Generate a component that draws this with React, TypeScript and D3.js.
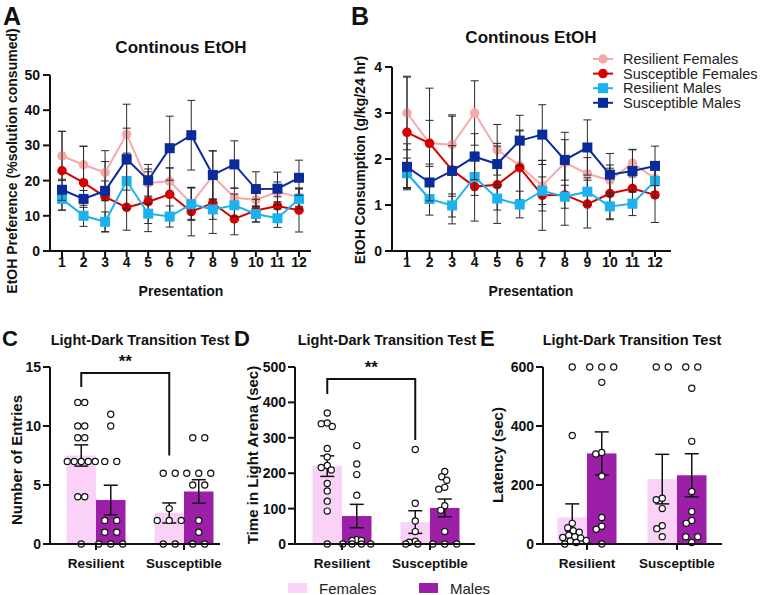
import React from 'react';
import * as d3 from 'd3';

const FONT = "'Liberation Sans', Arial, Helvetica, sans-serif";

// ---------- Line panels (A, B) ----------
const presentations = [1, 2, 3, 4, 5, 6, 7, 8, 9, 10, 11, 12];
const seriesNames = ['Resilient Females', 'Susceptible Females', 'Resilient Males', 'Susceptible Males'];
const seriesColors = ['#F7A8AA', '#D60000', '#1BB2EF', '#0B2A9C'];
const seriesShapes = ['circle', 'circle', 'square', 'square'];

// A: EtOH preference (%)
const prefRF = [27.0, 24.5, 22.3, 33.2, 19.3, 19.8, 13.5, 21.3, 15.2, 14.5, 16.8, 15.3];
const prefSF = [22.8, 19.4, 15.4, 12.4, 14.0, 16.1, 11.2, 13.6, 9.1, 11.5, 12.8, 11.6];
const prefRM = [14.8, 10.0, 8.3, 19.9, 10.6, 9.8, 13.3, 11.8, 13.0, 10.5, 9.3, 14.8];
const prefSM = [17.4, 14.8, 17.1, 26.1, 20.1, 29.2, 32.9, 21.6, 24.6, 17.6, 17.7, 20.8];
const prefErrRF = [7.0, 5.3, 6.2, 8.5, 4.0, 3.8, 4.5, 7.2, 2.6, 2.2, 2.8, 2.6];
const prefErrSF = [11.2, 10.3, 10.0, 6.5, 8.5, 7.5, 6.9, 8.6, 4.5, 3.2, 2.6, 6.2];
const prefErrRM = [3.2, 3.0, 2.8, 7.9, 2.8, 3.0, 4.6, 2.8, 3.2, 2.3, 2.6, 2.8];
const prefErrSM = [3.0, 2.4, 2.8, 8.8, 4.5, 9.1, 9.9, 6.8, 6.7, 4.9, 4.7, 5.0];
const prefTicks = [0, 10, 20, 30, 40, 50];

// B: EtOH consumption (g/kg/24 hr)
const consRF = [3.0, 2.34, 2.31, 3.0, 2.2, 1.86, 1.42, 1.92, 1.68, 1.54, 1.91, 1.58];
const consSF = [2.58, 2.34, 1.76, 1.4, 1.44, 1.81, 1.21, 1.22, 1.02, 1.25, 1.36, 1.22];
const consRM = [1.69, 1.13, 0.99, 1.61, 1.14, 1.01, 1.31, 1.18, 1.29, 0.97, 1.03, 1.52];
const consSM = [1.83, 1.49, 1.74, 2.05, 1.89, 2.4, 2.53, 1.98, 2.25, 1.66, 1.74, 1.85];
const consErrRF = [0.8, 0.5, 0.65, 0.7, 0.55, 0.75, 0.55, 0.66, 0.35, 0.33, 0.3, 0.3];
const consErrSF = [1.2, 1.2, 1.17, 0.75, 0.84, 0.82, 0.76, 0.66, 0.52, 0.55, 0.42, 0.6];
const consErrRM = [0.33, 0.35, 0.25, 0.4, 0.25, 0.29, 0.3, 0.25, 0.3, 0.29, 0.26, 0.35];
const consErrSM = [0.5, 0.4, 0.55, 0.5, 0.45, 0.55, 0.65, 0.44, 0.6, 0.46, 0.46, 0.43];
const consTicks = [0, 1, 2, 3, 4];

// ---------- Bar panels (C, D, E) ----------
const groups = ['Resilient', 'Susceptible'];
const sexes = ['Females', 'Males'];
const sexColors = ['#FAD2F7', '#9C1FA8'];

// C: number of entries  (order: Res-F, Res-M, Sus-F, Sus-M)
const entriesRF = [12, 12, 10, 10, 9, 9, 7, 7, 7, 7, 7, 4, 4, 0];
const entriesRM = [11, 10, 7, 7, 2, 2, 1, 1, 0, 0, 0];
const entriesSF = [6, 6, 3, 2, 2, 2, 0, 0];
const entriesSM = [9, 9, 6, 6, 6, 5, 5, 2, 1, 0, 0];
const entriesMeans = [7.5, 3.73, 2.63, 4.45];
const entriesSEM = [0.9, 1.25, 0.85, 1.0];
const entriesTicks = [0, 5, 10, 15];
const entriesBracket = [13.3, 14.5, 7.5];

// D: time in light arena (sec)
const timeRF = [370, 342, 340, 332, 270, 246, 222, 216, 209, 171, 150, 121, 93, 0];
const timeRM = [278, 226, 196, 138, 12, 10, 10, 0, 0, 0, 0];
const timeSF = [267, 115, 65, 35, 8, 5, 0, 0];
const timeSM = [205, 190, 180, 160, 155, 108, 95, 35, 0, 0, 0];
const timeMeans = [220, 79, 62, 102];
const timeSEM = [29, 33, 32, 25];
const timeTicks = [0, 100, 200, 300, 400, 500];
const timeBracket = [424, 466, 294];

// E: latency (sec)
const latRF = [600, 368, 70, 55, 45, 40, 30, 25, 22, 20, 12, 10, 5, 0];
const latRM = [600, 600, 600, 548, 310, 305, 230, 90, 60, 50, 0];
const latSF = [600, 600, 155, 150, 120, 62, 52, 25];
const latSM = [600, 600, 528, 348, 178, 110, 80, 70, 25, 25, 5];
const latMeans = [90, 307, 220, 233];
const latSEM = [46, 73, 84, 73];
const latTicks = [0, 200, 400, 600];

// ---------- helpers ----------
function Marker({ shape, x, y, color, size }: { shape: string; x: number; y: number; color: string; size: number }) {
  return shape === 'circle' ? (
    <circle cx={x} cy={y} r={size / 2} fill={color} />
  ) : (
    <rect x={x - size / 2} y={y - size / 2} width={size} height={size} fill={color} />
  );
}

type LineProps = {
  axisX: number; axisEnd: number; xRange: [number, number]; yRange: [number, number];
  yMax: number; yTicks: number[]; values: number[][]; errors: number[][];
};

function LinePanel({ axisX, axisEnd, xRange, yRange, yMax, yTicks, values, errors }: LineProps) {
  const x = d3.scalePoint<number>().domain(presentations).range(xRange);
  const y = d3.scaleLinear().domain([0, yMax]).range(yRange);
  const y0 = y(0);
  const line = d3.line<number>().x((_, i) => x(presentations[i])!).y((d) => y(d));
  return (
    <g>
      <line x1={axisX} x2={axisX} y1={y0 + 1} y2={y(yMax)} stroke="#111" strokeWidth={2} />
      <line x1={axisX - 1} x2={axisEnd} y1={y0} y2={y0} stroke="#111" strokeWidth={2} />
      {yTicks.map((t) => (
        <g key={'yt' + t}>
          <line x1={axisX - 7} x2={axisX} y1={y(t)} y2={y(t)} stroke="#111" strokeWidth={2} />
          <text x={axisX - 10} y={y(t)} textAnchor="end" dominantBaseline="central" fontSize={14} fontWeight="bold">{t}</text>
        </g>
      ))}
      {presentations.map((p) => (
        <g key={'xt' + p}>
          <line x1={x(p)} x2={x(p)} y1={y0} y2={y0 + 6} stroke="#111" strokeWidth={2} />
          <text x={x(p)} y={y0 + 11} textAnchor="middle" dominantBaseline="central" fontSize={14} fontWeight="bold">{p}</text>
        </g>
      ))}
      {values.map((vals, si) => (
        <g key={'s' + si}>
          <g stroke="#2a2a2a" strokeWidth={1}>
            {vals.map((v, i) => {
              const px = x(presentations[i])!;
              const e = errors[si][i];
              const yt = y(v + e);
              const yb = y(v - e);
              return (
                <g key={i}>
                  <line x1={px} x2={px} y1={yt} y2={yb} />
                  <line x1={px - 4} x2={px + 4} y1={yt} y2={yt} />
                  <line x1={px - 4} x2={px + 4} y1={yb} y2={yb} />
                </g>
              );
            })}
          </g>
          <path d={line(vals) || ''} fill="none" stroke={seriesColors[si]} strokeWidth={2} />
          {vals.map((v, i) => (
            <Marker key={i} shape={seriesShapes[si]} x={x(presentations[i])!} y={y(v)} color={seriesColors[si]}
              size={seriesShapes[si] === 'circle' ? 9.5 : 10} />
          ))}
        </g>
      ))}
    </g>
  );
}

// scatter layout: identical values spread in a symmetric row, others avoid overlap within the bar
function swarm(vals: number[], y: (v: number) => number, minDist: number, maxSpread: number) {
  const sorted = [...vals].sort((a, b) => b - a);
  const counts = d3.rollup(sorted, (v) => v.length, (d) => d);
  const maxRow = d3.max(Array.from(counts.values())) || 1;
  const d = maxRow > 1 ? Math.min(12, maxSpread / (maxRow - 1)) : 12;
  const placed: { dx: number; y: number }[] = [];
  let i = 0;
  while (i < sorted.length) {
    let j = i;
    while (j < sorted.length && sorted[j] === sorted[i]) j++;
    const n = j - i;
    const py = y(sorted[i]);
    const offs = d3.range(n).map((k) => (k - (n - 1) / 2) * d);
    const rowHalf = ((n - 1) * d) / 2;
    const limit = Math.max(0, maxSpread / 2 - rowHalf);
    let best = 0;
    let bestScore = -Infinity;
    for (let step = 0; step < 400; step++) {
      const s = (step % 2 === 0 ? 1 : -1) * Math.ceil(step / 2) * 0.5;
      if (Math.abs(s) > limit) break;
      const score = d3.min(offs.flatMap((o) => placed.map((p) => Math.hypot(p.dx - (o + s), p.y - py)))) ?? Infinity;
      if (score >= minDist) { best = s; bestScore = score; break; }
      if (score > bestScore + 0.01) { bestScore = score; best = s; }
    }
    offs.forEach((o) => placed.push({ dx: o + best, y: py }));
    i = j;
  }
  return placed;
}

type BarProps = {
  axisX: number; axisEnd: number; centers: [number, number]; yMax: number; yTicks: number[];
  means: number[]; sems: number[]; points: number[][]; bracket?: number[];
};

function BarPanel({ axisX, axisEnd, centers, yMax, yTicks, means, sems, points, bracket }: BarProps) {
  const x = d3.scalePoint<string>().domain(groups).range(centers);
  const sx = d3.scaleBand<string>().domain(sexes).range([-29.5, 29.5]);
  const y = d3.scaleLinear().domain([0, yMax]).range([544, 367]);
  const y0 = y(0);
  const cells = groups.flatMap((g, gi) => sexes.map((s, si) => ({ g, s, si, k: gi * 2 + si })));
  const r = 3.1;
  return (
    <g>
      {cells.map((c) => (
        <rect key={'b' + c.k} x={x(c.g)! + sx(c.s)!} width={sx.bandwidth()} y={y(means[c.k])}
          height={y0 - y(means[c.k])} fill={sexColors[c.si]} />
      ))}
      {cells.map((c) => {
        const cx = x(c.g)! + sx(c.s)! + sx.bandwidth() / 2;
        const yt = y(means[c.k] + sems[c.k]);
        const yb = y(means[c.k] - sems[c.k]);
        return (
          <g key={'e' + c.k} stroke="#111" strokeWidth={1.5}>
            <line x1={cx} x2={cx} y1={yt} y2={yb} />
            <line x1={cx - 7} x2={cx + 7} y1={yt} y2={yt} />
            <line x1={cx - 7} x2={cx + 7} y1={yb} y2={yb} />
          </g>
        );
      })}
      {cells.map((c) => {
        const cx = x(c.g)! + sx(c.s)! + sx.bandwidth() / 2;
        return (
          <g key={'p' + c.k}>
            {swarm(points[c.k], y, 6, 28).map((p, i) => (
              <circle key={i} cx={cx + p.dx} cy={p.y} r={r} fill="#fff" stroke="#111" strokeWidth={1.2} />
            ))}
          </g>
        );
      })}
      <line x1={axisX} x2={axisX} y1={y0 + 1} y2={y(yMax)} stroke="#111" strokeWidth={2} />
      <line x1={axisX - 1} x2={axisEnd} y1={y0} y2={y0} stroke="#111" strokeWidth={2} />
      {yTicks.map((t) => (
        <g key={'yt' + t}>
          <line x1={axisX - 7} x2={axisX} y1={y(t)} y2={y(t)} stroke="#111" strokeWidth={2} />
          <text x={axisX - 9} y={y(t)} textAnchor="end" dominantBaseline="central" fontSize={14} fontWeight="bold">{t}</text>
        </g>
      ))}
      {groups.map((g) => (
        <g key={'xt' + g}>
          <line x1={x(g)} x2={x(g)} y1={y0} y2={y0 + 6} stroke="#111" strokeWidth={2} />
          <text x={x(g)} y={y0 + 19} textAnchor="middle" dominantBaseline="central" fontSize={13.5} fontWeight="bold">{g}</text>
        </g>
      ))}
      {bracket && (() => {
        const lx = x(groups[0])! + sx(sexes[0])! + sx.bandwidth() / 2;
        const rx = x(groups[1])! + sx(sexes[0])! + sx.bandwidth() / 2;
        return (
          <g>
            <path d={`M${lx},${y(bracket[0])}V${y(bracket[1])}H${rx}V${y(bracket[2])}`} fill="none" stroke="#111" strokeWidth={2} />
            <text x={(lx + rx) / 2} y={y(bracket[1]) - 6} textAnchor="middle" fontSize={17} fontWeight="bold">**</text>
          </g>
        );
      })()}
    </g>
  );
}

function VLabel({ x, y, text, size = 14.5 }: { x: number; y: number; text: string; size?: number }) {
  return (
    <text transform={`translate(${x},${y}) rotate(-90)`} textAnchor="middle" dominantBaseline="central"
      fontSize={size} fontWeight="bold">{text}</text>
  );
}

export default function App() {
  return (
    <svg width={764} height={595} viewBox="0 0 764 595" style={{ position: 'absolute', left: 0, top: 0, fontFamily: FONT }}
      fill="#111">
      <rect width={764} height={595} fill="#fff" />

      {/* Panel A */}
      <text x={3} y={25} fontSize={25} fontWeight="bold">A</text>
      <text x={181} y={53} textAnchor="middle" fontSize={17} fontWeight="bold">Continous EtOH</text>
      <VLabel x={12} y={161} text="EtOH Preference (%solution consumed)" size={14} />
      <LinePanel axisX={50} axisEnd={311} xRange={[62, 299]} yRange={[251, 75]} yMax={50} yTicks={prefTicks}
        values={[prefRF, prefSF, prefRM, prefSM]} errors={[prefErrRF, prefErrSF, prefErrRM, prefErrSM]} />
      <text x={181} y={296} textAnchor="middle" fontSize={14} fontWeight="bold">Presentation</text>

      {/* Panel B */}
      <text x={351} y={25} fontSize={25} fontWeight="bold">B</text>
      <text x={531} y={43} textAnchor="middle" fontSize={17} fontWeight="bold">Continous EtOH</text>
      <VLabel x={360} y={160} text="EtOH Consumption (g/kg/24 hr)" size={14} />
      <LinePanel axisX={392} axisEnd={671} xRange={[407, 655]} yRange={[251, 67]} yMax={4} yTicks={consTicks}
        values={[consRF, consSF, consRM, consSM]} errors={[consErrRF, consErrSF, consErrRM, consErrSM]} />
      <text x={531} y={296} textAnchor="middle" fontSize={14} fontWeight="bold">Presentation</text>
      {seriesNames.map((n, i) => {
        const ly = 59 + i * 14.6;
        return (
          <g key={n}>
            <line x1={593} x2={613} y1={ly} y2={ly} stroke={seriesColors[i]} strokeWidth={2} />
            <Marker shape={seriesShapes[i]} x={603} y={ly} color={seriesColors[i]} size={seriesShapes[i] === 'circle' ? 9.5 : 10} />
            <text x={623} y={ly} dominantBaseline="central" fontSize={14.5} fill="#222">{n}</text>
          </g>
        );
      })}

      {/* Panel C */}
      <text x={2} y={346} fontSize={22} fontWeight="bold">C</text>
      <text x={140} y={345} textAnchor="middle" fontSize={14.5} fontWeight="bold">Light-Dark Transition Test</text>
      <VLabel x={16} y={460} text="Number of Entries" size={15} />
      <BarPanel axisX={50} axisEnd={220} centers={[96, 184]} yMax={15} yTicks={entriesTicks}
        means={entriesMeans} sems={entriesSEM} points={[entriesRF, entriesRM, entriesSF, entriesSM]} bracket={entriesBracket} />

      {/* Panel D */}
      <text x={234} y={346} fontSize={22} fontWeight="bold">D</text>
      <text x={387} y={345} textAnchor="middle" fontSize={14.5} fontWeight="bold">Light-Dark Transition Test</text>
      <VLabel x={252} y={455} text="Time in Light Arena (sec)" size={15} />
      <BarPanel axisX={295} axisEnd={475} centers={[342, 430]} yMax={500} yTicks={timeTicks}
        means={timeMeans} sems={timeSEM} points={[timeRF, timeRM, timeSF, timeSM]} bracket={timeBracket} />

      {/* Panel E */}
      <text x={480} y={346} fontSize={22} fontWeight="bold">E</text>
      <text x={632} y={345} textAnchor="middle" fontSize={14.5} fontWeight="bold">Light-Dark Transition Test</text>
      <VLabel x={497} y={455} text="Latency (sec)" size={15} />
      <BarPanel axisX={543} axisEnd={722} centers={[587, 677]} yMax={600} yTicks={latTicks}
        means={latMeans} sems={latSEM} points={[latRF, latRM, latSF, latSM]} />

      {/* bottom legend */}
      {sexes.map((s, i) => {
        const lx = 288 + i * 131;
        return (
          <g key={s}>
            <rect x={lx} y={583} width={19} height={10} fill={sexColors[i]} />
            <text x={lx + 31} y={588} dominantBaseline="central" fontSize={15} fill="#222">{s}</text>
          </g>
        );
      })}
    </svg>
  );
}
